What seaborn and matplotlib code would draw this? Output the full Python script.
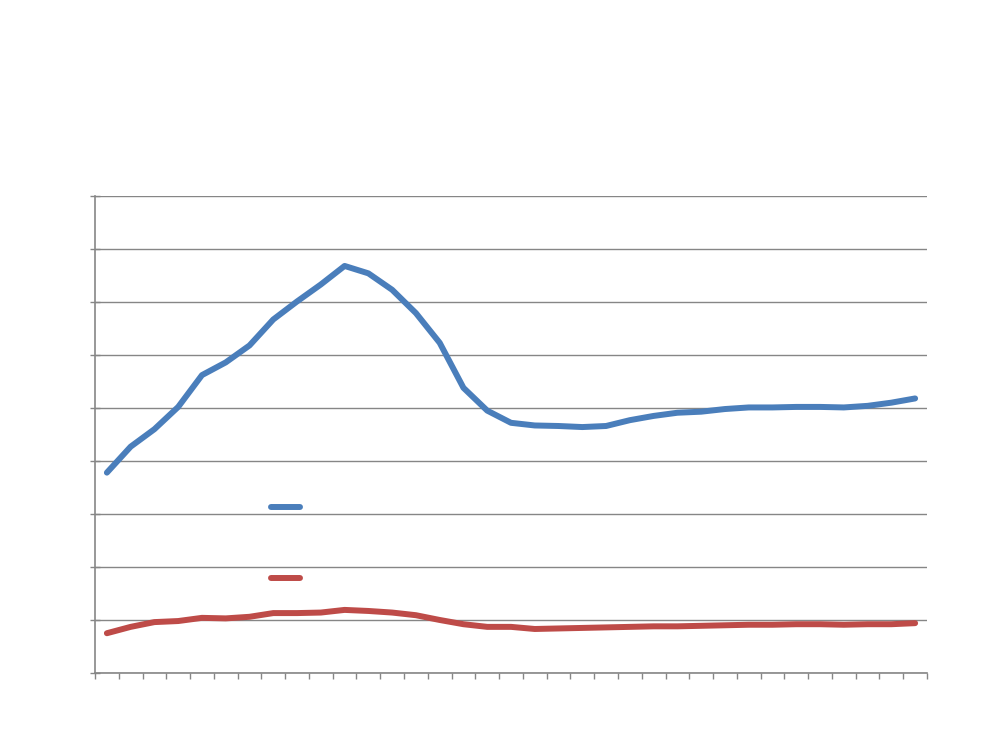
import matplotlib
matplotlib.use("Agg")
import matplotlib.pyplot as plt
import numpy as np
import pandas as pd
import seaborn as sns

# 35 periods, no labels shown on the original chart
periods = list(range(35))

blue_values = [3.78, 4.27, 4.60, 5.02, 5.62, 5.86, 6.18, 6.67, 7.01, 7.33,
               7.68, 7.54, 7.23, 6.79, 6.23, 5.38, 4.95, 4.72, 4.67, 4.66,
               4.64, 4.66, 4.77, 4.85, 4.91, 4.93, 4.98, 5.01, 5.01, 5.02,
               5.02, 5.01, 5.04, 5.10, 5.18]

red_values = [0.75, 0.87, 0.96, 0.98, 1.04, 1.03, 1.06, 1.13, 1.13, 1.14,
              1.19, 1.17, 1.14, 1.09, 1.00, 0.92, 0.87, 0.87, 0.83, 0.84,
              0.85, 0.86, 0.87, 0.88, 0.88, 0.89, 0.90, 0.91, 0.91, 0.92,
              0.92, 0.91, 0.92, 0.92, 0.94]

y_max = 9

df = pd.DataFrame({"period": periods, "blue": blue_values, "red": red_values})

sns.set_style("white")
fig = plt.figure(figsize=(10, 7.5), dpi=100)
ax = fig.add_axes([0.095, 0.1027, 0.832, 0.636])

grid_color = "#868686"
blue = "#4A7EBB"
red = "#BE4B48"

sns.lineplot(data=df, x="period", y="blue", ax=ax, color=blue, linewidth=4.3,
             solid_capstyle="round", solid_joinstyle="round", label=" ")
sns.lineplot(data=df, x="period", y="red", ax=ax, color=red, linewidth=4.3,
             solid_capstyle="round", solid_joinstyle="round", label=" ")

ax.set_xlim(-0.5, len(periods) - 0.5)
ax.set_ylim(0, y_max)
ax.set_xticks(np.arange(-0.5, len(periods), 1.0))
ax.set_yticks(np.arange(0, y_max + 1, 1))
ax.set_xticklabels([])
ax.set_yticklabels([])
ax.set_xlabel("")
ax.set_ylabel("")

ax.yaxis.grid(True, color=grid_color, linewidth=1.0)
ax.set_axisbelow(True)
for side in ["top", "right"]:
    ax.spines[side].set_visible(False)
for side in ["left", "bottom"]:
    ax.spines[side].set_color(grid_color)
    ax.spines[side].set_linewidth(1.2)
ax.tick_params(axis="y", left=True, direction="inout", length=7,
               color=grid_color, width=1)
ax.tick_params(axis="x", bottom=True, direction="out", length=4.5,
               color=grid_color, width=1)

leg = ax.legend(loc="center left", bbox_to_anchor=(0.271, 1 - 543.5 / 750),
                bbox_transform=fig.transFigure, frameon=False, borderpad=0,
                borderaxespad=0, handlelength=2.1, labelspacing=4.15, fontsize=10)

fig.savefig("out.png", dpi=100, facecolor="white")
